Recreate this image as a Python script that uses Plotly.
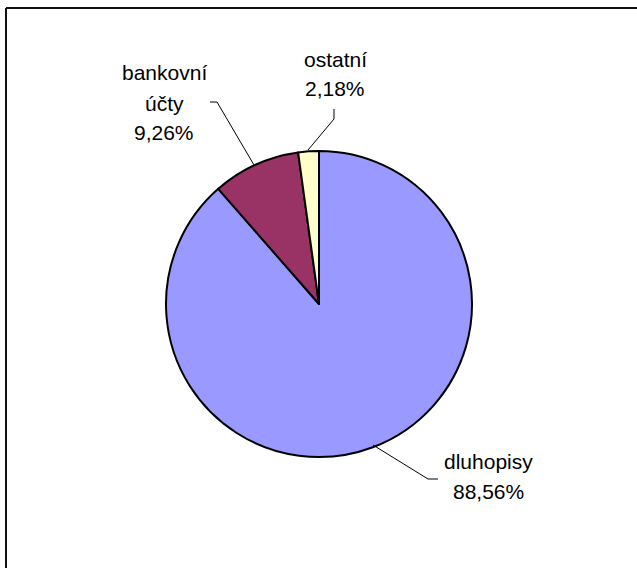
import plotly.graph_objects as go

# Portfolio structure (percent shares)
categories = ["dluhopisy", "bankovní účty", "ostatní"]
shares = [88.56, 9.26, 2.18]
colors = ["#9999FF", "#993366", "#FFFFCC"]

W, H = 637, 568


def px(x):
    return x / W


def py(y):
    return 1 - y / H


# pie centre and radius in pixels
cx, cy, r = 319, 304, 153

fig = go.Figure(
    go.Pie(
        labels=categories,
        values=shares,
        sort=False,
        direction="clockwise",
        rotation=0,
        marker=dict(colors=colors, line=dict(color="black", width=2)),
        textinfo="none",
        hoverinfo="skip",
        showlegend=False,
        domain=dict(x=[px(cx - r), px(cx + r)], y=[py(cy + r), py(cy - r)]),
    )
)


def fmt(v):
    return f"{v:.2f}".replace(".", ",") + "%"


# label lines: (category index, text lines, centre x, middle y of each line)
label_specs = [
    (1, ["bankovní", "účty"], 164, [72, 103, 132]),
    (2, ["ostatní"], 335, [60, 88]),
    (0, ["dluhopisy"], 488, [461, 491]),
]

annotations = []
for idx, words, x, ys in label_specs:
    lines = words + [fmt(shares[idx])]
    for text, y in zip(lines, ys):
        annotations.append(
            dict(
                text=text,
                x=px(x),
                y=py(y),
                xref="paper",
                yref="paper",
                xanchor="center",
                yanchor="middle",
                showarrow=False,
                font=dict(family="Liberation Sans, Arial", size=21, color="black"),
            )
        )

# leader lines from labels to slices
leaders = [
    [(210, 102), (217, 102), (254, 165)],
    [(334, 109), (334, 119), (308, 150)],
    [(438, 479), (428, 479), (373, 445)],
]
shapes = []
for pts in leaders:
    path = "M " + " L ".join(f"{px(x)},{py(y)}" for x, y in pts)
    shapes.append(
        dict(type="path", path=path, xref="paper", yref="paper",
             line=dict(color="black", width=1))
    )

# chart area frame (top and left edges)
shapes.append(dict(type="line", xref="paper", yref="paper",
                   x0=px(6), y0=py(8), x1=1, y1=py(8),
                   line=dict(color="#111111", width=2)))
shapes.append(dict(type="line", xref="paper", yref="paper",
                   x0=px(6), y0=py(8), x1=px(6), y1=0,
                   line=dict(color="#111111", width=2)))

fig.update_layout(
    width=W,
    height=H,
    margin=dict(l=0, r=0, t=0, b=0),
    paper_bgcolor="white",
    plot_bgcolor="white",
    annotations=annotations,
    shapes=shapes,
)

fig.write_html("out.html")
